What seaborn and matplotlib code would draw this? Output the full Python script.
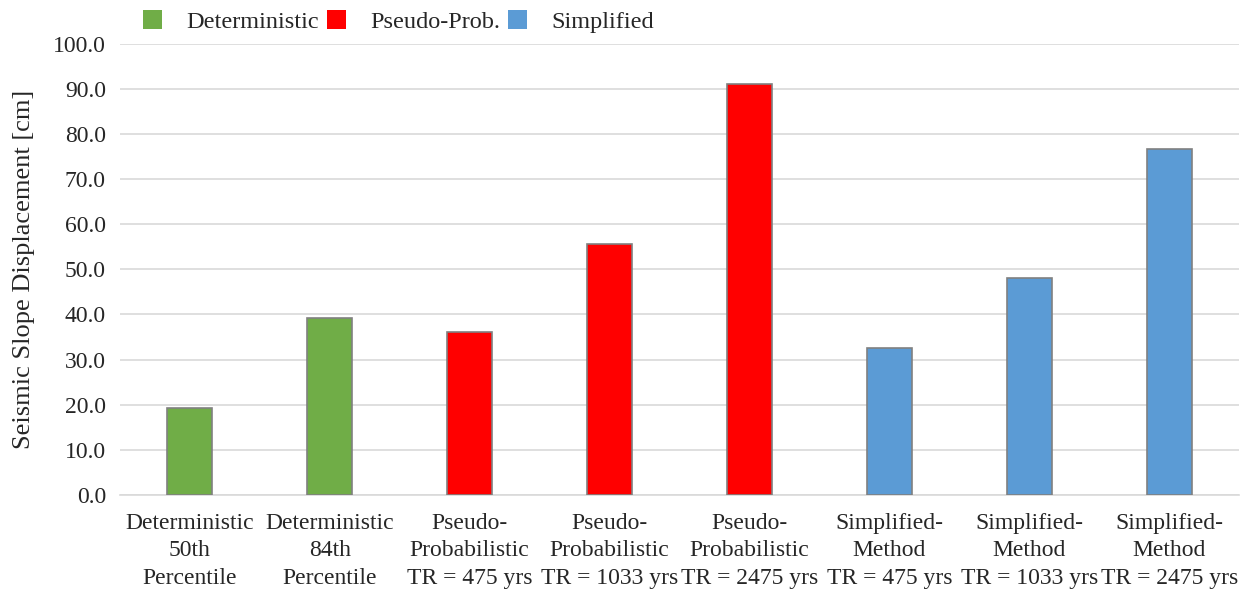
import matplotlib
matplotlib.use("Agg")
import matplotlib.pyplot as plt
from matplotlib.patches import Patch
import pandas as pd
import seaborn as sns

#-Chart data
labels = [
    "Deterministic\n50th\nPercentile",
    "Deterministic\n84th\nPercentile",
    "Pseudo-\nProbabilistic\nTR = 475 yrs",
    "Pseudo-\nProbabilistic\nTR = 1033 yrs",
    "Pseudo-\nProbabilistic\nTR = 2475 yrs",
    "Simplified-\nMethod\nTR = 475 yrs",
    "Simplified-\nMethod\nTR = 1033 yrs",
    "Simplified-\nMethod\nTR = 2475 yrs",
]
groups = ["Deterministic", "Deterministic", "Pseudo-Prob.", "Pseudo-Prob.",
          "Pseudo-Prob.", "Simplified", "Simplified", "Simplified"]
values = [19.2, 39.2, 36.2, 55.6, 91.0, 32.5, 48.0, 76.7]
group_names = ["Deterministic", "Pseudo-Prob.", "Simplified"]
colors = ["#70AD47", "#FF0000", "#5B9BD5"]

df = pd.DataFrame({"label": labels, "group": groups, "value": values})

sns.set_style("white")
plt.rcParams["font.family"] = ["Liberation Serif", "DejaVu Serif"]

fig, ax = plt.subplots(figsize=(12.48, 5.92), dpi=100)
fig.subplots_adjust(left=0.096, right=0.993, top=0.926, bottom=0.164)

sns.barplot(data=df, x="label", y="value", hue="group", hue_order=group_names,
            palette=colors, saturation=1, dodge=False, width=0.32,
            edgecolor="#808080", linewidth=1.2, legend=False, ax=ax, zorder=3)

ax.set_ylim(0, 100)
ax.set_yticks(range(0, 101, 10))
ax.set_yticklabels([f"{v:.1f}" for v in range(0, 101, 10)], fontsize=17)
ax.set_xlim(-0.5, len(labels) - 0.5)
ax.tick_params(axis="x", labelsize=17, length=0, pad=13)
for lbl in ax.get_xticklabels():
    lbl.set_linespacing(1.4)
ax.tick_params(axis="y", length=8, color="#D9D9D9", width=1.2, pad=2)
ax.grid(axis="y", color="#D9D9D9", linewidth=1.2, zorder=0)
ax.set_axisbelow(True)
for s in ["top", "right", "left"]:
    ax.spines[s].set_visible(False)
ax.spines["bottom"].set_color("#D9D9D9")
ax.spines["bottom"].set_linewidth(1.2)
ax.set_xlabel("")
ax.set_ylabel("Seismic Slope Displacement [cm]", fontsize=19, labelpad=13)

handles = [Patch(facecolor=c, edgecolor="none") for c in colors]
fig.legend(handles, group_names, loc="upper left", bbox_to_anchor=(0.097, 1.02),
           ncol=3, frameon=False, fontsize=17.5, handlelength=0.8, handleheight=0.8,
           columnspacing=0.3, handletextpad=1.0)

fig.savefig("out.png", dpi=100)
